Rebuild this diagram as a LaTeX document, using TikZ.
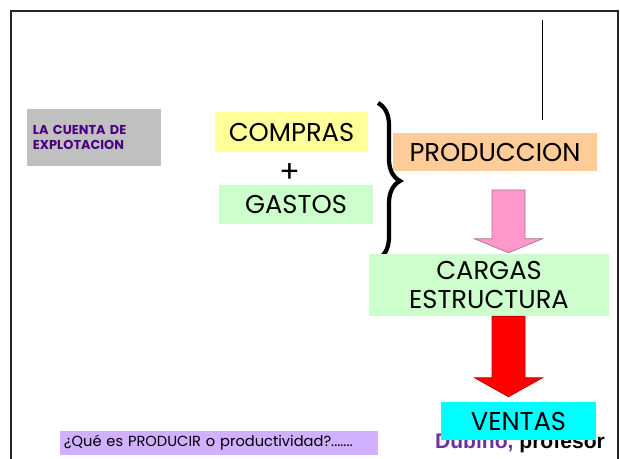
\documentclass[tikz,border=0pt]{standalone}
\usepackage{fontspec}
\setmainfont{Poppins}
\newfontfamily\arialfont{Liberation Sans}
\usetikzlibrary{calc,positioning,decorations.pathreplacing}

\definecolor{grisbox}{HTML}{C0C0C0}
\definecolor{amarillo}{HTML}{FFFF99}
\definecolor{verdeclaro}{HTML}{CCFFCC}
\definecolor{melocoton}{HTML}{FFCC99}
\definecolor{rosa}{HTML}{FF99CC}
\definecolor{celeste}{HTML}{00FFFF}
\definecolor{lila}{HTML}{D0B0FF}
\definecolor{morado}{HTML}{4B0082}
\definecolor{violeta}{HTML}{7030A0}

\tikzset{
  caja/.style={fill=#1, inner sep=0pt, font=\fontsize{22}{25}\selectfont},
  flecha/.style={fill=#1, draw=#1!70!black, line width=0.6pt}
}

\begin{document}
\begin{tikzpicture}[x=0.03cm, y=-0.03cm]
    \useasboundingbox (0,0) rectangle (620,459);
    \clip (0,0) rectangle (620,459);

    % marco de la diapositiva
    \draw[line width=2.2pt, black!85] (11,11) rectangle (618,480);
    \draw[thin] (542,20) -- (542,120);

    % titulo
    \node[fill=grisbox, minimum width=4.02cm, minimum height=1.71cm, text width=3.66cm,
          inner xsep=0.18cm, align=left, text=morado,
          font=\fontsize{11}{12.8}\selectfont\bfseries] (cuenta) at (94,137.5)
          {LA CUENTA DE\\EXPLOTACION};

    % compras + gastos
    \node[caja=amarillo, minimum width=4.59cm, minimum height=1.2cm] (compras) at (291.5,132) {COMPRAS};
    \node[font=\fontsize{26}{28}\selectfont] (mas) at (290,173) {+};
    \node[caja=verdeclaro, minimum width=4.62cm, minimum height=1.17cm] (gastos) at (296,204.5) {GASTOS};

    % llave
    \draw[line width=3.6pt, decorate, decoration={brace, amplitude=0.66cm}] (378,103) -- (378,259);

    % produccion, cargas, ventas
    \node[caja=melocoton, minimum width=6.12cm, minimum height=1.14cm] (produccion) at (495,152) {PRODUCCION};
    \node[caja=verdeclaro, minimum width=7.2cm, minimum height=1.86cm, align=center] (cargas) at (489,285)
          {CARGAS\\ESTRUCTURA};

    % texto del profesor (queda tapado por VENTAS)
    \node[font=\arialfont\fontsize{18}{20}\selectfont\bfseries, anchor=base] (profesor) at (520,448)
          {\textcolor{violeta}{Dubino,} profesor};
    \node[caja=celeste, minimum width=4.65cm, minimum height=1.14cm] (ventas) at (518.5,421) {VENTAS};

    % flechas
    \coordinate (f1) at (508.5,190);
    \coordinate (f2) at (cargas.south -| f1);
    \fill[flecha=rosa] ($(f1)+(-16.5,0)$) -- ($(f1)+(16.5,0)$) -- ($(f1 |- cargas.north)+(16.5,-15)$)
        -- ($(f1 |- cargas.north)+(34,-15)$) -- ($(f1 |- cargas.north)+(0,-1)$)
        -- ($(f1 |- cargas.north)+(-34,-15)$) -- ($(f1 |- cargas.north)+(-16.5,-15)$) -- cycle;
    \fill[flecha=red] ($(f2)+(-16.5,0)$) -- ($(f2)+(16.5,0)$) -- ($(f2 |- ventas.north)+(16.5,-24)$)
        -- ($(f2 |- ventas.north)+(34,-24)$) -- ($(f2 |- ventas.north)+(0,-5)$)
        -- ($(f2 |- ventas.north)+(-34,-24)$) -- ($(f2 |- ventas.north)+(-16.5,-24)$) -- cycle;

    % pregunta
    \node[fill=lila, minimum width=9.54cm, minimum height=0.72cm, text width=9.3cm, inner xsep=0.12cm,
          align=left, font=\fontsize{12.5}{14}\selectfont] (pregunta) at (219,443)
          {¿Qué es PRODUCIR o productividad?.......};
\end{tikzpicture}
\end{document}
